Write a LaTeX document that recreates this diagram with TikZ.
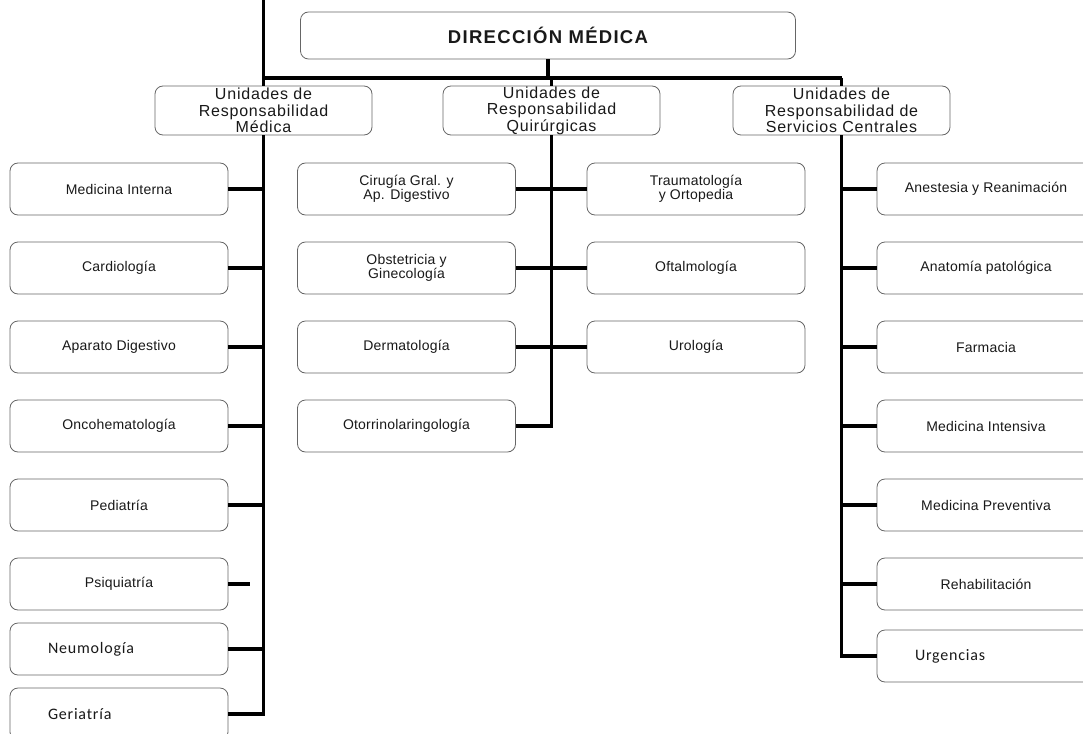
\documentclass[tikz,border=0pt]{standalone}
\usepackage{fontspec}
\setmainfont{Liberation Sans}
\newfontfamily\unitfont[LetterSpace=1.5]{Liberation Sans}
\newfontfamily\headfont[LetterSpace=5]{Liberation Sans}
\newfontfamily\dirfont[LetterSpace=7]{Liberation Sans}
\newfontfamily\calfont[LetterSpace=5]{Carlito}
\usetikzlibrary{calc}

\begin{document}
\begin{tikzpicture}[x=1pt,y=-1pt,
    unit/.style={draw=black!60, line width=0.8pt, rounded corners=8pt, fill=white, minimum width=218pt, minimum height=52pt, inner sep=0pt, align=center, text=black!90, font=\unitfont\fontsize{14}{14}\selectfont},
    calunit/.style={unit, text width=142pt, align=left, font=\calfont\fontsize{16}{18}\selectfont},
    head/.style={unit, minimum width=217pt, minimum height=49pt, font=\headfont\fontsize{16}{16.5}\selectfont},
    link/.style={line width=3.5pt}]
            \useasboundingbox (0,0) rectangle (1083,733);
            \node[unit, minimum width=495pt, minimum height=47pt, font=\dirfont\fontsize{18.5}{20}\selectfont\bfseries] (dir) at (548,35.5) {DIRECCIÓN MÉDICA};
            \node[head] (urm) at (263.5,110.5) {Unidades de\\Responsabilidad\\Médica};
            \node[head] (urq) at (551.5,110.5) {Unidades de\\Responsabilidad\\Quirúrgicas};
            \node[head] (ursc) at (841.5,110.5) {Unidades de\\Responsabilidad de\\Servicios Centrales};
            % medicas
            \node[unit] (medint) at (119,189) {Medicina Interna};
            \node[unit] (cardio) at (119,268) {Cardiología};
            \node[unit] (apdig) at (119,347) {Aparato Digestivo};
            \node[unit] (oncohem) at (119,426) {Oncohematología};
            \node[unit] (pedia) at (119,505) {Pediatría};
            \node[unit] (psiq) at (119,584) {Psiquiatría};
            \node[calunit] (neumo) at (119,649) {Neumología};
            \node[calunit] (geria) at (119,714) {Geriatría};
            % quirurgicas
            \node[unit] (cirug) at (406.5,189) {Cirugía Gral. y\\Ap. Digestivo};
            \node[unit] (obst) at (406.5,268) {Obstetricia y\\Ginecología};
            \node[unit] (derma) at (406.5,347) {Dermatología};
            \node[unit] (otorr) at (406.5,426) {Otorrinolaringología};
            \node[unit] (traum) at (696,189) {Traumatología\\y Ortopedia};
            \node[unit] (oftal) at (696,268) {Oftalmología};
            \node[unit] (urol) at (696,347) {Urología};
            % servicios centrales
            \node[unit] (anest) at (986,189) {Anestesia y Reanimación};
            \node[unit] (anato) at (986,268) {Anatomía patológica};
            \node[unit] (farma) at (986,347) {Farmacia};
            \node[unit] (medintens) at (986,426) {Medicina Intensiva};
            \node[unit] (medprev) at (986,505) {Medicina Preventiva};
            \node[unit] (rehab) at (986,584) {Rehabilitación};
            \node[calunit] (urgen) at (986,656) {Urgencias};
            \coordinate (topend) at (263.5,0);
            \coordinate (barl) at (263.5,78);
            \coordinate (barr) at (841.5,78);
            \coordinate (psiqend) at (250,584);
            \draw[link] (barl) -- (barr);
            \draw[link] (dir.south) -- (dir.south |- barl);
            \draw[link] (topend) -- (urm.north);
            \draw[link] (urq.north |- barl) -- (urq.north);
            \draw[link] (barr) -- (ursc.north);
            % ramas
            \draw[link] (urm.south) -- (urm.south |- geria.east) -- (geria.east);
            \draw[link] (medint.east) -- (urm.south |- medint.east);
            \draw[link] (cardio.east) -- (urm.south |- cardio.east);
            \draw[link] (apdig.east) -- (urm.south |- apdig.east);
            \draw[link] (oncohem.east) -- (urm.south |- oncohem.east);
            \draw[link] (pedia.east) -- (urm.south |- pedia.east);
            \draw[link] (psiq.east) -- (psiqend);
            \draw[link] (neumo.east) -- (urm.south |- neumo.east);
            \draw[link] (urq.south) -- (urq.south |- otorr.east) -- (otorr.east);
            \draw[link] (cirug.east) -- (traum.west);
            \draw[link] (obst.east) -- (oftal.west);
            \draw[link] (derma.east) -- (urol.west);
            \draw[link] (ursc.south) -- (ursc.south |- urgen.west) -- (urgen.west);
            \draw[link] (anest.west) -- (ursc.south |- anest.west);
            \draw[link] (anato.west) -- (ursc.south |- anato.west);
            \draw[link] (farma.west) -- (ursc.south |- farma.west);
            \draw[link] (medintens.west) -- (ursc.south |- medintens.west);
            \draw[link] (medprev.west) -- (ursc.south |- medprev.west);
            \draw[link] (rehab.west) -- (ursc.south |- rehab.west);
\end{tikzpicture}
\end{document}
